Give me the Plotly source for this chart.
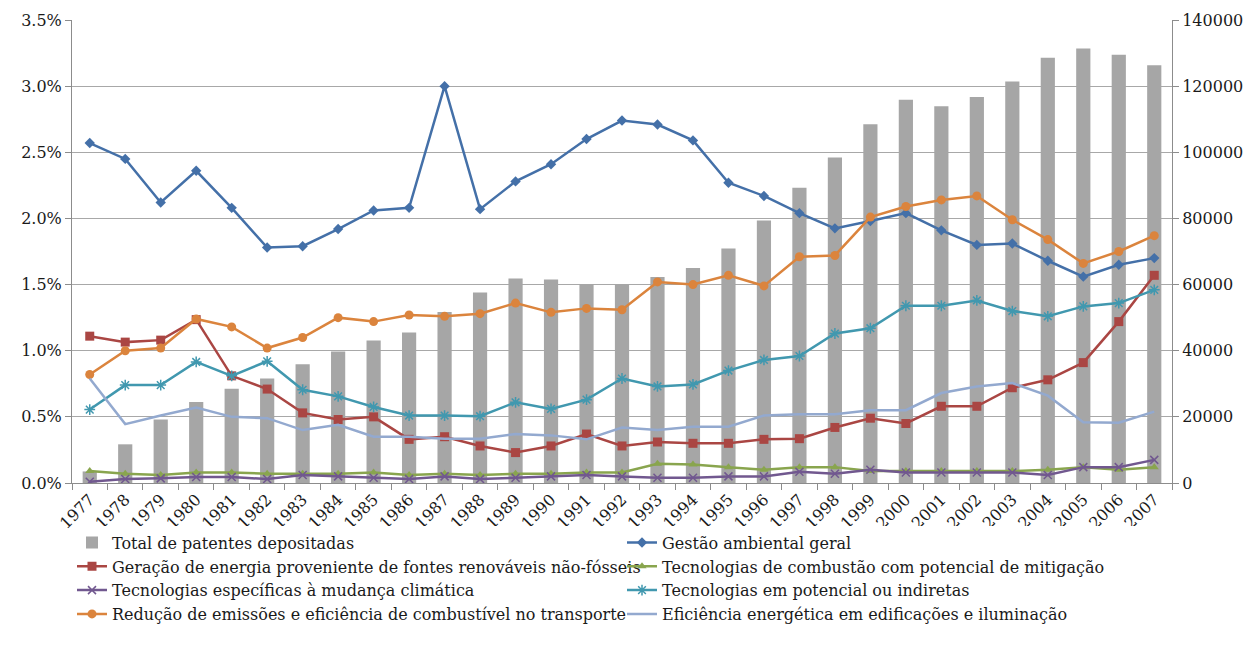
import plotly.graph_objects as go

years = [str(y) for y in range(1977, 2008)]

total_patentes = [3500, 11700, 19200, 24500, 28500, 31600, 35900, 39800, 43100, 45500,
                  51700, 57600, 61800, 61500, 60100, 60100, 62300, 65000, 70900, 79400,
                  89300, 98400, 108500, 115900, 113900, 116700, 121400, 128600, 131400, 129500, 126300]

gestao = [2.57, 2.45, 2.12, 2.36, 2.08, 1.78, 1.79, 1.92, 2.06, 2.08,
          3.00, 2.07, 2.28, 2.41, 2.60, 2.74, 2.71, 2.59, 2.27, 2.17,
          2.04, 1.925, 1.98, 2.04, 1.91, 1.80, 1.81, 1.68, 1.56, 1.65, 1.70]

geracao = [1.11, 1.065, 1.08, 1.235, 0.81, 0.71, 0.53, 0.48, 0.50, 0.33,
           0.35, 0.28, 0.23, 0.28, 0.37, 0.28, 0.31, 0.30, 0.30, 0.33,
           0.335, 0.42, 0.49, 0.45, 0.58, 0.58, 0.72, 0.78, 0.91, 1.22, 1.57]

combustao = [0.09, 0.07, 0.06, 0.08, 0.08, 0.07, 0.07, 0.07, 0.08, 0.06,
             0.07, 0.06, 0.07, 0.07, 0.08, 0.08, 0.145, 0.14, 0.12, 0.10,
             0.12, 0.12, 0.09, 0.09, 0.09, 0.09, 0.09, 0.10, 0.12, 0.10, 0.12]

especificas = [0.01, 0.03, 0.035, 0.045, 0.045, 0.03, 0.06, 0.05, 0.04, 0.03,
               0.05, 0.03, 0.04, 0.05, 0.06, 0.05, 0.04, 0.04, 0.05, 0.05,
               0.085, 0.07, 0.10, 0.08, 0.08, 0.08, 0.08, 0.06, 0.12, 0.12, 0.175]

potencial = [0.555, 0.74, 0.74, 0.915, 0.81, 0.92, 0.705, 0.655, 0.575, 0.51,
             0.51, 0.505, 0.61, 0.56, 0.63, 0.79, 0.73, 0.745, 0.85, 0.93,
             0.96, 1.13, 1.17, 1.34, 1.34, 1.38, 1.30, 1.26, 1.335, 1.36, 1.46]

reducao = [0.82, 1.00, 1.02, 1.24, 1.18, 1.02, 1.10, 1.25, 1.22, 1.27,
           1.26, 1.28, 1.36, 1.29, 1.32, 1.31, 1.52, 1.50, 1.57, 1.49,
           1.71, 1.72, 2.01, 2.09, 2.14, 2.17, 1.99, 1.84, 1.66, 1.75, 1.87]

eficiencia = [0.79, 0.445, 0.51, 0.57, 0.50, 0.49, 0.40, 0.44, 0.35, 0.35,
              0.335, 0.335, 0.37, 0.36, 0.33, 0.42, 0.40, 0.425, 0.425, 0.51,
              0.52, 0.52, 0.55, 0.55, 0.68, 0.73, 0.755, 0.66, 0.46, 0.455, 0.54]

FONT = "DejaVu Serif"

fig = go.Figure()

fig.add_trace(go.Bar(x=years, y=total_patentes, name="Total de patentes depositadas",
                     marker=dict(color="#a6a6a6", line=dict(width=0)), width=0.4,
                     yaxis="y"))

line_specs = [
    ("Gestão ambiental geral", gestao, "#4470a8", dict(symbol="diamond", size=8)),
    ("Geração de energia proveniente de fontes renováveis não-fósseis", geracao, "#aa4643", dict(symbol="square", size=9)),
    ("Tecnologias de combustão com potencial de mitigação", combustao, "#89a54e", dict(symbol="triangle-up", size=8)),
    ("Tecnologias específicas à mudança climática", especificas, "#71588f", dict(symbol="x-thin-open", size=8, line=dict(width=1.5, color="#71588f"))),
    ("Tecnologias em potencial ou indiretas", potencial, "#4198af", dict(symbol="asterisk-open", size=9, line=dict(width=1.5, color="#4198af"))),
    ("Redução de emissões e eficiência de combustível no transporte", reducao, "#db843d", dict(symbol="circle", size=9)),
    ("Eficiência energética em edificações e iluminação", eficiencia, "#93a9cf", None),
]

for name, vals, color, marker in line_specs:
    yv = [v / 100 for v in vals]
    if marker is None:
        fig.add_trace(go.Scatter(x=years, y=yv, name=name, mode="lines",
                                 line=dict(color=color, width=2.5), yaxis="y2"))
    else:
        m = dict(color=color)
        m.update(marker)
        fig.add_trace(go.Scatter(x=years, y=yv, name=name, mode="lines+markers",
                                 line=dict(color=color, width=2.5), marker=m, yaxis="y2"))

fig.update_layout(
    width=1237, height=638,
    margin=dict(l=64, r=73, t=12, b=163, autoexpand=False),
    paper_bgcolor="white", plot_bgcolor="white",
    font=dict(family=FONT, size=16, color="#1a1a1a"),
    showlegend=True,
    legend=dict(orientation="h", x=0.0, xanchor="left", y=-0.092, yanchor="top",
                entrywidth=505, entrywidthmode="pixels", font=dict(family=FONT, size=16),
                itemwidth=30, tracegroupgap=0, traceorder="normal"),
    bargap=0.6,
    xaxis=dict(type="category", tickangle=-45, showgrid=False, showline=True,
               linecolor="#8c8c8c", linewidth=1, ticks="outside", ticklen=6,
               tickcolor="#8c8c8c", tickson="boundaries", tickfont=dict(size=16),
               range=[-0.5, 30.5]),
    yaxis=dict(side="right", range=[0, 140000], dtick=20000, tickformat="d",
               showgrid=True, gridcolor="#a8a8a8", gridwidth=1, showline=True,
               linecolor="#8c8c8c", ticks="outside", ticklen=6, tickcolor="#8c8c8c",
               zeroline=False, tickfont=dict(size=16)),
    yaxis2=dict(side="left", overlaying="y", range=[0, 0.035], dtick=0.005,
                tickformat=".1%", showgrid=False, showline=True, linecolor="#8c8c8c",
                ticks="outside", ticklen=6, tickcolor="#8c8c8c", zeroline=False,
                tickfont=dict(size=16)),
)

fig.write_html("out.html")
